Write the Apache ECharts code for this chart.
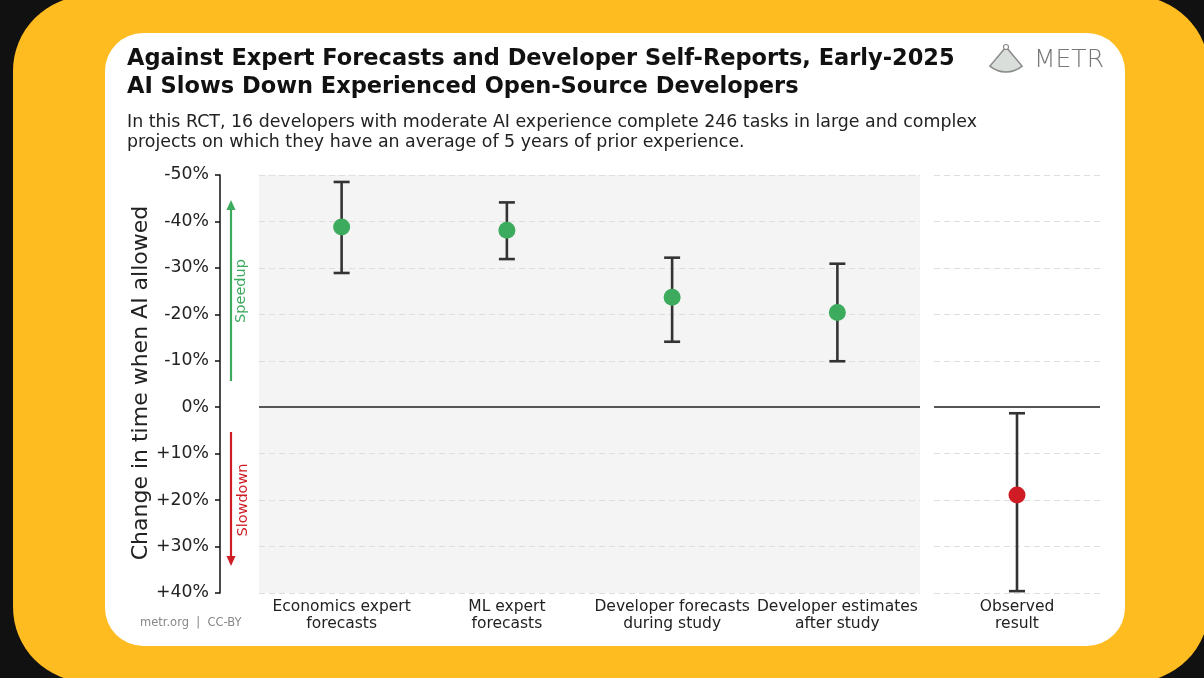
<!DOCTYPE html>
<html>
<head>
<meta charset="utf-8">
<script src="https://cdn.jsdelivr.net/npm/echarts@6/dist/echarts.min.js"></script>
<style>html,body{margin:0;padding:0;background:#111;}#c{width:1204px;height:678px;}</style>
</head>
<body>
<div id="c"></div>
<script>
// ---- data ----
const forecastCategories = ['Economics expert\nforecasts', 'ML expert\nforecasts', 'Developer forecasts\nduring study', 'Developer estimates\nafter study'];
const forecastMid = [-38.8, -38.1, -23.7, -20.4];
const forecastLow = [-48.5, -44.1, -32.2, -30.9];
const forecastHigh = [-28.9, -31.9, -14.1, -9.9];
const observedCategories = ['Observed\nresult'];
const observedMid = [18.9];
const observedLow = [1.3];
const observedHigh = [39.6];
const yTicks = [-50, -40, -30, -20, -10, 0, 10, 20, 30, 40];

const FONT = "'DejaVu Sans', 'Noto Sans', sans-serif";
const GREEN = '#3dab5e';
const RED = '#d01c24';

function fmt(v) {
  if (v < 0) return '-' + Math.abs(v) + '%';
  if (v > 0) return '+' + v + '%';
  return '0%';
}

function errRender(params, api) {
  const x = api.value(0);
  const lo = api.coord([x, api.value(1)]);
  const hi = api.coord([x, api.value(2)]);
  const half = 8;
  const style = { stroke: '#333', lineWidth: 2.6 };
  return {
    type: 'group',
    children: [
      { type: 'line', shape: { x1: lo[0], y1: lo[1], x2: hi[0], y2: hi[1] }, style },
      { type: 'line', shape: { x1: lo[0] - half, y1: lo[1], x2: lo[0] + half, y2: lo[1] }, style },
      { type: 'line', shape: { x1: hi[0] - half, y1: hi[1], x2: hi[0] + half, y2: hi[1] }, style }
    ]
  };
}

const chart = echarts.init(document.getElementById('c'), null, { renderer: 'canvas' });

const yBase = {
  type: 'value', inverse: true, min: yTicks[0], max: yTicks[yTicks.length - 1], interval: 10,
  splitLine: { show: true, lineStyle: { color: '#dedede', type: [6, 4], width: 1.2 } }
};
const zeroLine = {
  silent: true, symbol: 'none', label: { show: false },
  lineStyle: { color: '#555', type: 'solid', width: 2 },
  data: [{ yAxis: 0 }]
};

chart.setOption({
  backgroundColor: '#111',
  animation: false,
  graphic: [
    { type: 'rect', z: -10, shape: { x: 13, y: -4, width: 1196, height: 686, r: 75 }, style: { fill: '#FEBC20' } },
    { type: 'rect', z: -9, shape: { x: 105, y: 33, width: 1020, height: 613, r: 38 }, style: { fill: '#ffffff' } },
    { type: 'text', z: 10, style: { x: 127, y: 59, text: 'Against Expert Forecasts and Developer Self-Reports, Early-2025', font: "bold 22.5px " + FONT, fill: '#111', verticalAlign: 'middle' } },
    { type: 'text', z: 10, style: { x: 127, y: 87, text: 'AI Slows Down Experienced Open-Source Developers', font: "bold 22.5px " + FONT, fill: '#111', verticalAlign: 'middle' } },
    { type: 'text', z: 10, style: { x: 127, y: 122, text: 'In this RCT, 16 developers with moderate AI experience complete 246 tasks in large and complex', font: "17.4px " + FONT, fill: '#222', verticalAlign: 'middle' } },
    { type: 'text', z: 10, style: { x: 127, y: 142, text: 'projects on which they have an average of 5 years of prior experience.', font: "17.4px " + FONT, fill: '#222', verticalAlign: 'middle' } },
    { type: 'sector', z: 10, shape: { cx: 1006, cy: 47, r0: 0, r: 25, startAngle: Math.PI / 2 - 0.7, endAngle: Math.PI / 2 + 0.7 }, style: { fill: '#d9dedb', stroke: '#8a8a8a', lineWidth: 1.5 } },
    { type: 'circle', z: 11, shape: { cx: 1006, cy: 47, r: 2.5 }, style: { fill: '#fff', stroke: '#8a8a8a', lineWidth: 1.2 } },
    { type: 'text', z: 10, style: { x: 1034, y: 60, text: 'METR', font: "200 25px " + FONT, fill: '#777', verticalAlign: 'middle' } },
    { type: 'text', z: 10, rotation: Math.PI / 2, x: 141, y: 383, style: { x: 0, y: 0, text: 'Change in time when AI allowed', font: "22px " + FONT, fill: '#222', align: 'center', verticalAlign: 'middle' } },
    { type: 'line', z: 10, shape: { x1: 231, y1: 381, x2: 231, y2: 208 }, style: { stroke: GREEN, lineWidth: 2.2 } },
    { type: 'polygon', z: 10, shape: { points: [[231, 200], [226.5, 210], [235.5, 210]] }, style: { fill: GREEN } },
    { type: 'text', z: 10, rotation: Math.PI / 2, x: 241, y: 291, style: { x: 0, y: 0, text: 'Speedup', font: "14.5px " + FONT, fill: GREEN, align: 'center', verticalAlign: 'middle' } },
    { type: 'line', z: 10, shape: { x1: 231, y1: 432, x2: 231, y2: 558 }, style: { stroke: RED, lineWidth: 2.2 } },
    { type: 'polygon', z: 10, shape: { points: [[231, 566], [226.5, 556], [235.5, 556]] }, style: { fill: RED } },
    { type: 'text', z: 10, rotation: Math.PI / 2, x: 243, y: 500, style: { x: 0, y: 0, text: 'Slowdown', font: "14.5px " + FONT, fill: RED, align: 'center', verticalAlign: 'middle' } },
    { type: 'text', z: 10, style: { x: 140, y: 623, text: 'metr.org  |  CC-BY', font: "11.5px " + FONT, fill: '#888', verticalAlign: 'middle' } }
  ],
  grid: [
    { left: 259, right: 284, top: 175, bottom: 85, show: true, backgroundColor: '#f4f4f4', borderWidth: 0 },
    { left: 934, right: 104, top: 175, bottom: 85, show: false }
  ],
  xAxis: [
    { gridIndex: 0, type: 'category', data: forecastCategories, axisLine: { show: false }, axisTick: { show: false }, splitLine: { show: false },
      axisLabel: { fontFamily: FONT, fontSize: 15.5, color: '#222', lineHeight: 17, margin: 5, interval: 0 } },
    { gridIndex: 1, type: 'category', data: observedCategories, axisLine: { show: false }, axisTick: { show: false }, splitLine: { show: false },
      axisLabel: { fontFamily: FONT, fontSize: 15.5, color: '#222', lineHeight: 17, margin: 5, interval: 0 } }
  ],
  yAxis: [
    Object.assign({}, yBase, { gridIndex: 0, offset: 39,
      axisLine: { show: true, lineStyle: { color: '#111', width: 1.5 } },
      axisTick: { show: true, length: 5, lineStyle: { color: '#111', width: 1.5 } },
      axisLabel: { formatter: fmt, fontFamily: FONT, fontSize: 17.3, color: '#222', margin: 11 } }),
    Object.assign({}, yBase, { gridIndex: 1, axisLine: { show: false }, axisTick: { show: false }, axisLabel: { show: false } })
  ],
  series: [
    { type: 'custom', xAxisIndex: 0, yAxisIndex: 0, renderItem: errRender, z: 3,
      data: forecastCategories.map((c, i) => [i, forecastLow[i], forecastHigh[i]]), markLine: zeroLine },
    { type: 'scatter', xAxisIndex: 0, yAxisIndex: 0, symbolSize: 17, z: 5, itemStyle: { color: GREEN, opacity: 1 },
      data: forecastMid.map((v, i) => [i, v]) },
    { type: 'custom', xAxisIndex: 1, yAxisIndex: 1, renderItem: errRender, z: 3,
      data: observedCategories.map((c, i) => [i, observedLow[i], observedHigh[i]]), markLine: zeroLine },
    { type: 'scatter', xAxisIndex: 1, yAxisIndex: 1, symbolSize: 17, z: 5, itemStyle: { color: RED, opacity: 1 },
      data: observedMid.map((v, i) => [i, v]) }
  ]
});
</script>
</body>
</html>
